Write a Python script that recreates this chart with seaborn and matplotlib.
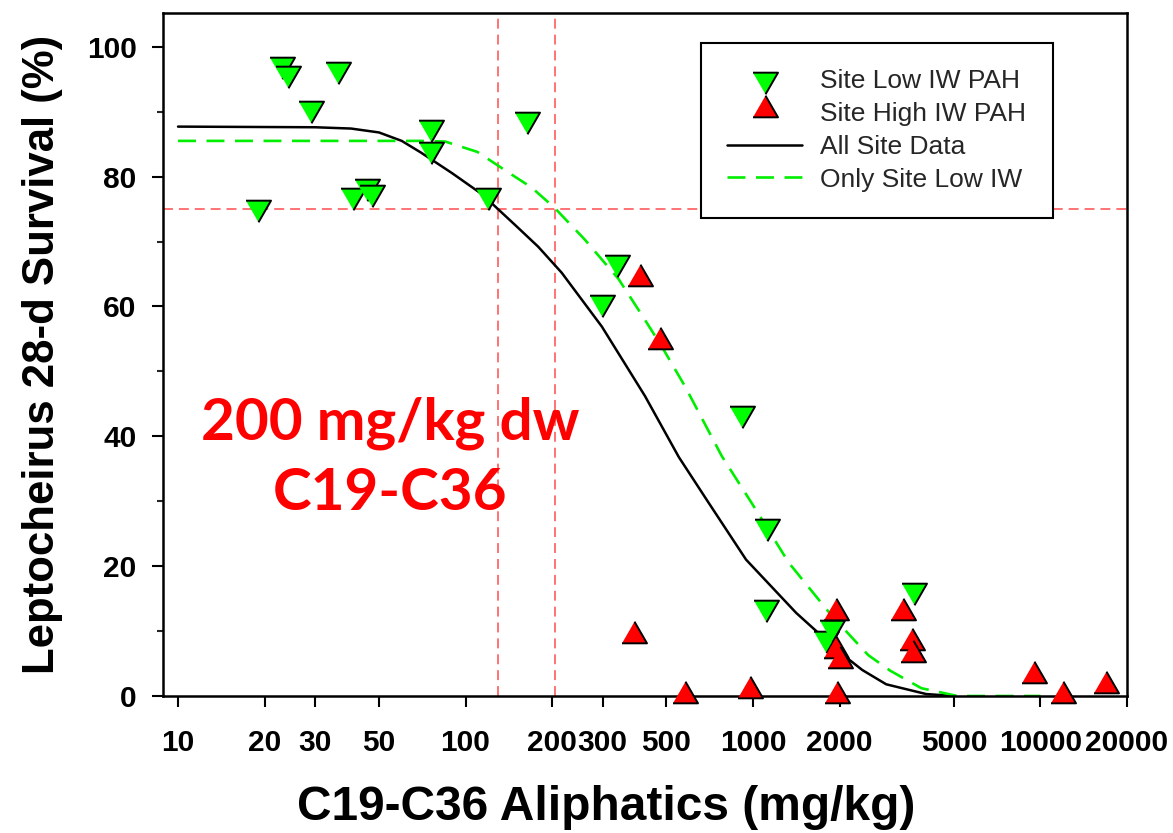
import matplotlib
matplotlib.use("Agg")
import matplotlib.pyplot as plt
import seaborn as sns
from matplotlib.markers import MarkerStyle
from matplotlib.legend_handler import HandlerPathCollection
from matplotlib.ticker import FixedLocator, FixedFormatter, MultipleLocator, NullLocator

# ---------------- data ----------------
low_x = [19.0, 23.0, 24.2, 29.0, 35.9, 40.7, 45.3, 47.2, 75.7, 75.7, 120, 164,
         298, 336, 914, 1119, 1114, 1800, 1880, 3630]
low_y = [74.7, 96.7, 95.4, 90.0, 95.9, 76.5, 78.0, 77.0, 87.0, 83.6, 76.5, 88.3,
         60.0, 66.2, 42.9, 25.6, 13.1, 8.3, 10.0, 15.7]

high_x = [385, 404, 475, 578, 973, 1950, 1950, 2000, 1960, 3327, 3575, 3590,
          9510, 11970, 16870]
high_y = [9.8, 64.9, 55.2, 0.6, 1.4, 13.4, 7.5, 6.0, 0.6, 13.4, 8.8, 6.9,
          3.7, 0.6, 2.2]

fit_all_x = [10, 30, 40, 50, 60, 70, 90, 114, 150, 179, 216, 298, 421, 552, 700,
             946, 1413, 1995, 2400, 2906, 4000, 5000]
fit_all_y = [87.7, 87.6, 87.4, 86.8, 85.5, 83.7, 80.5, 77.3, 72.4, 69.2, 65.2,
             56.9, 46.2, 36.8, 29.8, 21.0, 12.8, 6.8, 4.0, 1.8, 0.3, 0.0]

fit_low_x = [10, 50, 70, 85, 110, 137, 170, 204, 260, 341, 420, 482, 580, 780,
             1000, 1333, 1884, 2516, 3000, 3850, 5140, 10000]
fit_low_y = [85.5, 85.5, 85.5, 85.4, 83.8, 81.0, 78.3, 75.2, 70.3, 64.2, 58.0,
             53.8, 47.7, 36.9, 29.4, 20.5, 12.3, 6.3, 3.9, 1.2, 0.0, 0.0]

ref_y = [75]
ref_x = [130, 205]

x_ticks = [10, 20, 30, 50, 100, 200, 300, 500, 1000, 2000, 5000, 10000, 20000]
x_tick_labels = ["10", "20", "30", "50", "100", "200", "300", "500", "1000",
                 "2000", "5000", "10000", "20000"]
y_ticks = [0, 20, 40, 60, 80, 100]

labels = ["Site Low IW PAH", "Site High IW PAH", "All Site Data", "Only Site Low IW"]
annotation = "200 mg/kg dw\nC19-C36"

# ---------------- style ----------------
sns.set_theme(style="ticks")
plt.rcParams["font.family"] = ["Liberation Sans", "DejaVu Sans"]
plt.rcParams["axes.linewidth"] = 1.8

fig = plt.figure(figsize=(11.73, 8.33), dpi=100)
ax = fig.add_axes([0.1390, 0.1645, 0.8218, 0.8199])

down_tri = MarkerStyle([(-1, 0.866), (1, 0.866), (0, -0.866)])
up_tri = MarkerStyle([(-1, -0.866), (1, -0.866), (0, 0.866)])

# reference lines
for yv in ref_y:
    ax.axhline(yv, color="#ff4d4d", lw=1.1, linestyle=(0, (6.5, 3.9)), zorder=1)
for xv in ref_x:
    ax.axvline(xv, color="#ff4d4d", lw=1.1, linestyle=(0, (6.5, 3.9)), zorder=1)

# fitted curves
sns.lineplot(x=fit_all_x, y=fit_all_y, ax=ax, color="black", lw=1.8,
             label=labels[2], zorder=2)
sns.lineplot(x=fit_low_x, y=fit_low_y, ax=ax, color="#00ee00", lw=1.9,
             linestyle=(0, (6.8, 4.0)), label=labels[3], zorder=2)

# points
sns.scatterplot(x=low_x, y=low_y, ax=ax, marker=down_tri, s=324, color="#00ff00",
                edgecolor="black", linewidth=1.4, label=labels[0], zorder=3,
                clip_on=False)
sns.scatterplot(x=high_x, y=high_y, ax=ax, marker=up_tri, s=324, color="#ff0000",
                edgecolor="black", linewidth=1.4, label=labels[1], zorder=3,
                clip_on=False)

ax.set_xscale("log")
ax.set_xlim(8.87, 20000)
ax.set_ylim(0, 105.2)

ax.xaxis.set_major_locator(FixedLocator(x_ticks))
ax.xaxis.set_major_formatter(FixedFormatter(x_tick_labels))
ax.xaxis.set_minor_locator(NullLocator())
ax.yaxis.set_major_locator(FixedLocator(y_ticks))
ax.yaxis.set_minor_locator(MultipleLocator(10))

ax.tick_params(axis="both", which="major", length=8, width=1.5, direction="out",
               labelsize=21.5, colors="black")
ax.tick_params(axis="x", which="major", pad=16)
ax.tick_params(axis="y", which="major", pad=11)
ax.tick_params(axis="y", which="minor", length=4, width=1.5, direction="out")
for lab in ax.get_xticklabels() + ax.get_yticklabels():
    lab.set_fontweight("bold")

for sp in ax.spines.values():
    sp.set_visible(True)
    sp.set_color("black")
    sp.set_linewidth(1.8)

ax.set_xlabel("C19-C36 Aliphatics (mg/kg)", fontsize=34.5, fontweight="bold",
              labelpad=20, color="black")
ax.xaxis.label.set_x(0.46)
ax.set_ylabel("Leptocheirus 28-d Survival (%)", fontsize=31.5, fontweight="bold",
              labelpad=17, color="black")

ax.text(0.2355, 0.348, annotation, transform=ax.transAxes, ha="center", va="center",
        color="#ff0000", fontsize=42, fontweight="bold", family=["Lato", "DejaVu Sans"],
        linespacing=1.38, zorder=4)

# legend in the reference order
handles, labs = ax.get_legend_handles_labels()
hmap = dict(zip(labs, handles))
hlist = [hmap[l] for l in labels]
leg = ax.legend(hlist, labels, loc="upper right",
                bbox_to_anchor=(0.923, 0.956), frameon=True, fancybox=False,
                edgecolor="black", facecolor="white", framealpha=1,
                fontsize=19, handlelength=2.85, handletextpad=0.68,
                borderpad=1.0, labelspacing=0.33, borderaxespad=0,
                handler_map={hlist[0]: HandlerPathCollection(yoffsets=[0.3]),
                             hlist[1]: HandlerPathCollection(yoffsets=[0.82])})
leg.get_frame().set_linewidth(1.5)
leg.set_zorder(10)

fig.savefig("out.png", dpi=100)
